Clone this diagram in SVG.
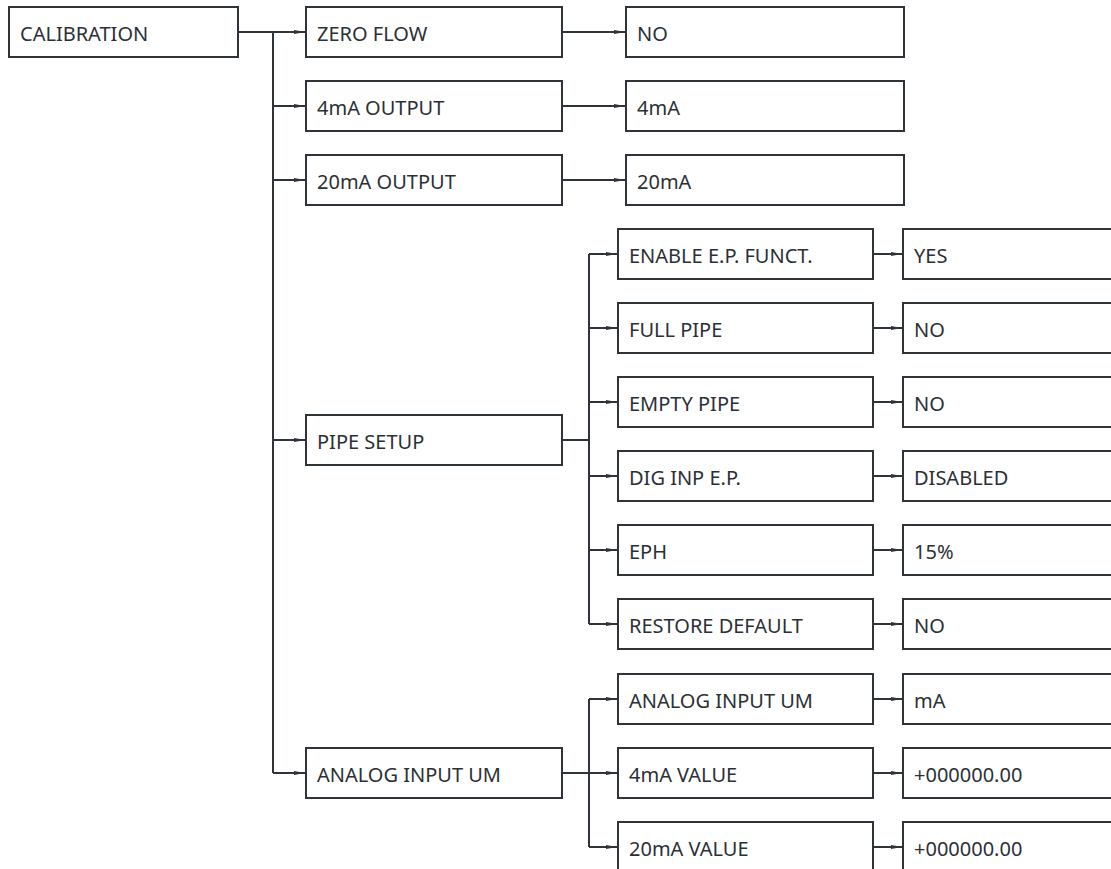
<svg xmlns="http://www.w3.org/2000/svg" width="1111" height="869" viewBox="0 0 1111 869">
<style>
.box{fill:#fff;stroke:#2f343a;stroke-width:2}
.t{font-family:"Noto Sans","Open Sans",sans-serif;font-size:20px;fill:#2b3036}
.c{fill:none;stroke:#2f343a;stroke-width:2}
.a{marker-end:url(#ah)}
</style>
<defs>
<marker id="ah" markerUnits="userSpaceOnUse" markerWidth="12" markerHeight="6" refX="11" refY="3" orient="auto">
<path d="M0,1 L11,3 L0,5 z" fill="#2f343a"/>
</marker>
</defs>
<rect width="1111" height="869" fill="#fff"/>
<g id="connectors">
<path class="c a" d="M238,32 H305"/>
<path class="c" d="M273,32 V773"/>
<path class="c a" d="M273,106 H305"/>
<path class="c a" d="M273,180 H305"/>
<path class="c a" d="M273,440 H305"/>
<path class="c a" d="M273,773 H305"/>
<path class="c a" d="M562,32 H625"/>
<path class="c a" d="M562,106 H625"/>
<path class="c a" d="M562,180 H625"/>
<path class="c" d="M562,440 H589"/>
<path class="c" d="M589,254 V624"/>
<path class="c a" d="M589,254 H617"/>
<path class="c a" d="M589,328 H617"/>
<path class="c a" d="M589,402 H617"/>
<path class="c a" d="M589,476 H617"/>
<path class="c a" d="M589,550 H617"/>
<path class="c a" d="M589,624 H617"/>
<path class="c a" d="M562,773 H617"/>
<path class="c" d="M589,699 V847"/>
<path class="c a" d="M589,699 H617"/>
<path class="c a" d="M589,847 H617"/>
<path class="c a" d="M873,254 H902"/>
<path class="c a" d="M873,328 H902"/>
<path class="c a" d="M873,402 H902"/>
<path class="c a" d="M873,476 H902"/>
<path class="c a" d="M873,550 H902"/>
<path class="c a" d="M873,624 H902"/>
<path class="c a" d="M873,699 H902"/>
<path class="c a" d="M873,773 H902"/>
<path class="c a" d="M873,847 H902"/>
</g>
<g id="n-calibration"><rect class="box" x="9" y="7" width="229" height="50"/><text class="t" x="20" y="41">CALIBRATION</text></g>
<g id="n-zeroflow"><rect class="box" x="306" y="7" width="256" height="50"/><text class="t" x="317" y="41">ZERO FLOW</text></g>
<g id="n-zeroflow-v"><rect class="box" x="626" y="7" width="278" height="50"/><text class="t" x="637" y="41">NO</text></g>
<g id="n-4ma"><rect class="box" x="306" y="81" width="256" height="50"/><text class="t" x="317" y="115">4mA OUTPUT</text></g>
<g id="n-4ma-v"><rect class="box" x="626" y="81" width="278" height="50"/><text class="t" x="637" y="115">4mA</text></g>
<g id="n-20ma"><rect class="box" x="306" y="155" width="256" height="50"/><text class="t" x="317" y="189">20mA OUTPUT</text></g>
<g id="n-20ma-v"><rect class="box" x="626" y="155" width="278" height="50"/><text class="t" x="637" y="189">20mA</text></g>
<g id="n-pipesetup"><rect class="box" x="306" y="415" width="256" height="50"/><text class="t" x="317" y="449">PIPE SETUP</text></g>
<g id="n-analog"><rect class="box" x="306" y="748" width="256" height="50"/><text class="t" x="317" y="782">ANALOG INPUT UM</text></g>
<g id="n-enable"><rect class="box" x="618" y="229" width="255" height="50"/><text class="t" x="629" y="263">ENABLE E.P. FUNCT.</text></g>
<g id="n-enable-v"><rect class="box" x="903" y="229" width="220" height="50"/><text class="t" x="914" y="263">YES</text></g>
<g id="n-fullpipe"><rect class="box" x="618" y="303" width="255" height="50"/><text class="t" x="629" y="337">FULL PIPE</text></g>
<g id="n-fullpipe-v"><rect class="box" x="903" y="303" width="220" height="50"/><text class="t" x="914" y="337">NO</text></g>
<g id="n-emptypipe"><rect class="box" x="618" y="377" width="255" height="50"/><text class="t" x="629" y="411">EMPTY PIPE</text></g>
<g id="n-emptypipe-v"><rect class="box" x="903" y="377" width="220" height="50"/><text class="t" x="914" y="411">NO</text></g>
<g id="n-diginp"><rect class="box" x="618" y="451" width="255" height="50"/><text class="t" x="629" y="485">DIG INP E.P.</text></g>
<g id="n-diginp-v"><rect class="box" x="903" y="451" width="220" height="50"/><text class="t" x="914" y="485">DISABLED</text></g>
<g id="n-eph"><rect class="box" x="618" y="525" width="255" height="50"/><text class="t" x="629" y="559">EPH</text></g>
<g id="n-eph-v"><rect class="box" x="903" y="525" width="220" height="50"/><text class="t" x="914" y="559">15%</text></g>
<g id="n-restore"><rect class="box" x="618" y="599" width="255" height="50"/><text class="t" x="629" y="633">RESTORE DEFAULT</text></g>
<g id="n-restore-v"><rect class="box" x="903" y="599" width="220" height="50"/><text class="t" x="914" y="633">NO</text></g>
<g id="n-aium"><rect class="box" x="618" y="674" width="255" height="50"/><text class="t" x="629" y="708">ANALOG INPUT UM</text></g>
<g id="n-aium-v"><rect class="box" x="903" y="674" width="220" height="50"/><text class="t" x="914" y="708">mA</text></g>
<g id="n-4mav"><rect class="box" x="618" y="748" width="255" height="50"/><text class="t" x="629" y="782">4mA VALUE</text></g>
<g id="n-4mav-v"><rect class="box" x="903" y="748" width="220" height="50"/><text class="t" x="914" y="782">+000000.00</text></g>
<g id="n-20mav"><rect class="box" x="618" y="822" width="255" height="50"/><text class="t" x="629" y="856">20mA VALUE</text></g>
<g id="n-20mav-v"><rect class="box" x="903" y="822" width="220" height="50"/><text class="t" x="914" y="856">+000000.00</text></g>
</svg>
